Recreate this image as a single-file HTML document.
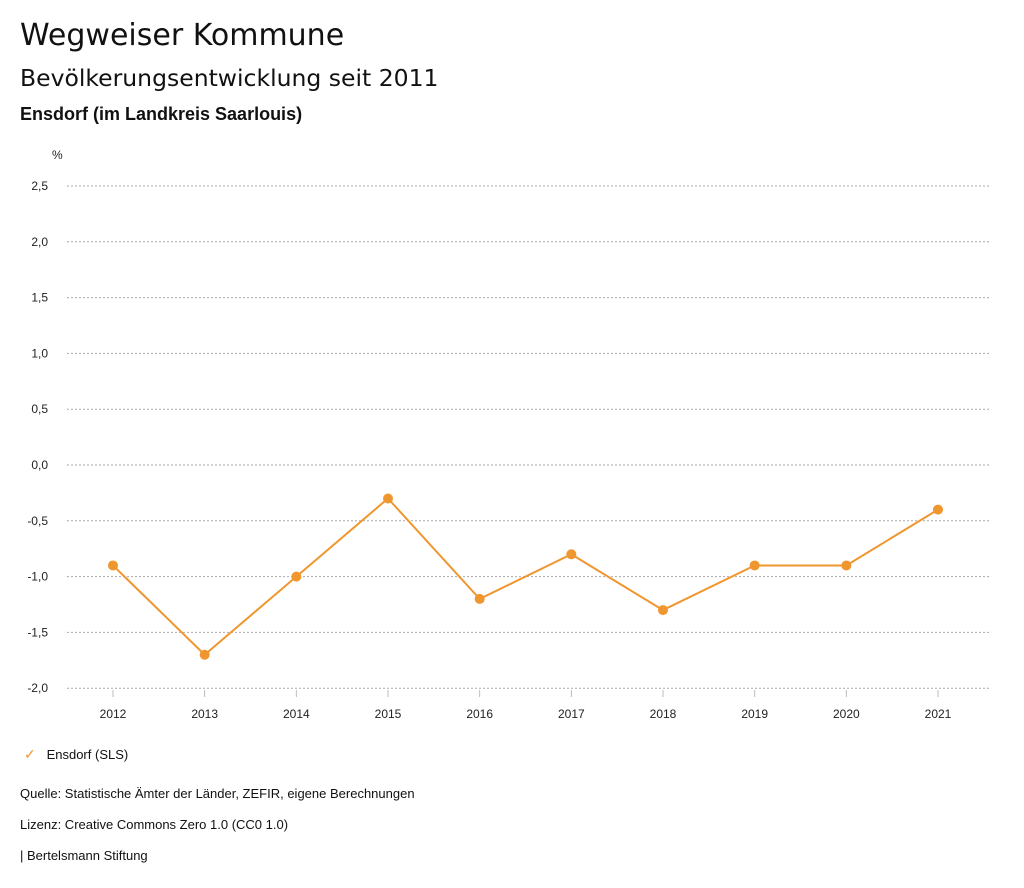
<!DOCTYPE html>
<html><head><meta charset="utf-8"><style>
body{margin:0;width:1024px;height:888px;background:#fff;font-family:"Liberation Sans",sans-serif;color:#111;position:relative;overflow:hidden}
.t{position:absolute;left:20px;white-space:nowrap}
</style></head><body>
<div class="t" style="top:18px;font-size:30px;font-family:'DejaVu Sans',sans-serif">Wegweiser Kommune</div>
<div class="t" style="top:64px;font-size:23.5px;font-family:'DejaVu Sans',sans-serif">Bevölkerungsentwicklung seit 2011</div>
<div class="t" style="top:104px;font-size:18px;font-weight:bold">Ensdorf (im Landkreis Saarlouis)</div>
<svg id="chart" width="1024" height="888" style="position:absolute;left:0;top:0" font-family="Liberation Sans, sans-serif"></svg>
<div class="t" style="top:746px;left:24px;font-size:13px"><span style="color:#f0962e;font-size:14px">✓</span>&nbsp;&nbsp;&nbsp;Ensdorf (SLS)</div>
<div class="t" style="top:786px;font-size:13px">Quelle: Statistische Ämter der Länder, ZEFIR, eigene Berechnungen</div>
<div class="t" style="top:817px;font-size:13px">Lizenz: Creative Commons Zero 1.0 (CC0 1.0)</div>
<div class="t" style="top:848px;font-size:13px">| Bertelsmann Stiftung</div>
<script>
const years=["2012","2013","2014","2015","2016","2017","2018","2019","2020","2021"];
const values=[-0.9,-1.7,-1.0,-0.3,-1.2,-0.8,-1.3,-0.9,-0.9,-0.4];
const yTicks=[2.5,2.0,1.5,1.0,0.5,0.0,-0.5,-1.0,-1.5,-2.0];
const svg=document.getElementById('chart');
const NS='http://www.w3.org/2000/svg';
function y(v){return 465-v*111.6;}
function x(i){return 113+i*(938-113)/(years.length-1);}
function mk(t,a,p){const e=document.createElementNS(NS,t);for(const k in a)e.setAttribute(k,a[k]);(p||svg).appendChild(e);return e;}
const u=mk('text',{x:52,y:159,'font-size':12,fill:'#222'});u.textContent='%';


yTicks.forEach(v=>{
 const l=mk('line',{x1:67,x2:990,y1:y(v),y2:y(v),stroke:'#aaa','stroke-dasharray':'2,2'});
 
 
 const t=mk('text',{x:48,y:y(v)+4,'text-anchor':'end','font-size':12,fill:'#222'});
 t.textContent=v.toFixed(1).replace('.',',');
 
 
});
years.forEach((yr,i)=>{
 const l=mk('line',{x1:x(i),x2:x(i),y1:690,y2:697,stroke:'#bbb'});
 
 
 const t=mk('text',{x:x(i),y:718,'text-anchor':'middle','font-size':12,fill:'#222'});
 t.textContent=yr;
 
 
});
const pl=mk('polyline',{points:values.map((v,i)=>x(i)+','+y(v)).join(' '),fill:'none',stroke:'#f0962e','stroke-width':2});


values.forEach((v,i)=>{
 const c=mk('circle',{cx:x(i),cy:y(v),r:5,fill:'#f0962e'});
 
 
});
</script>
</body></html>
